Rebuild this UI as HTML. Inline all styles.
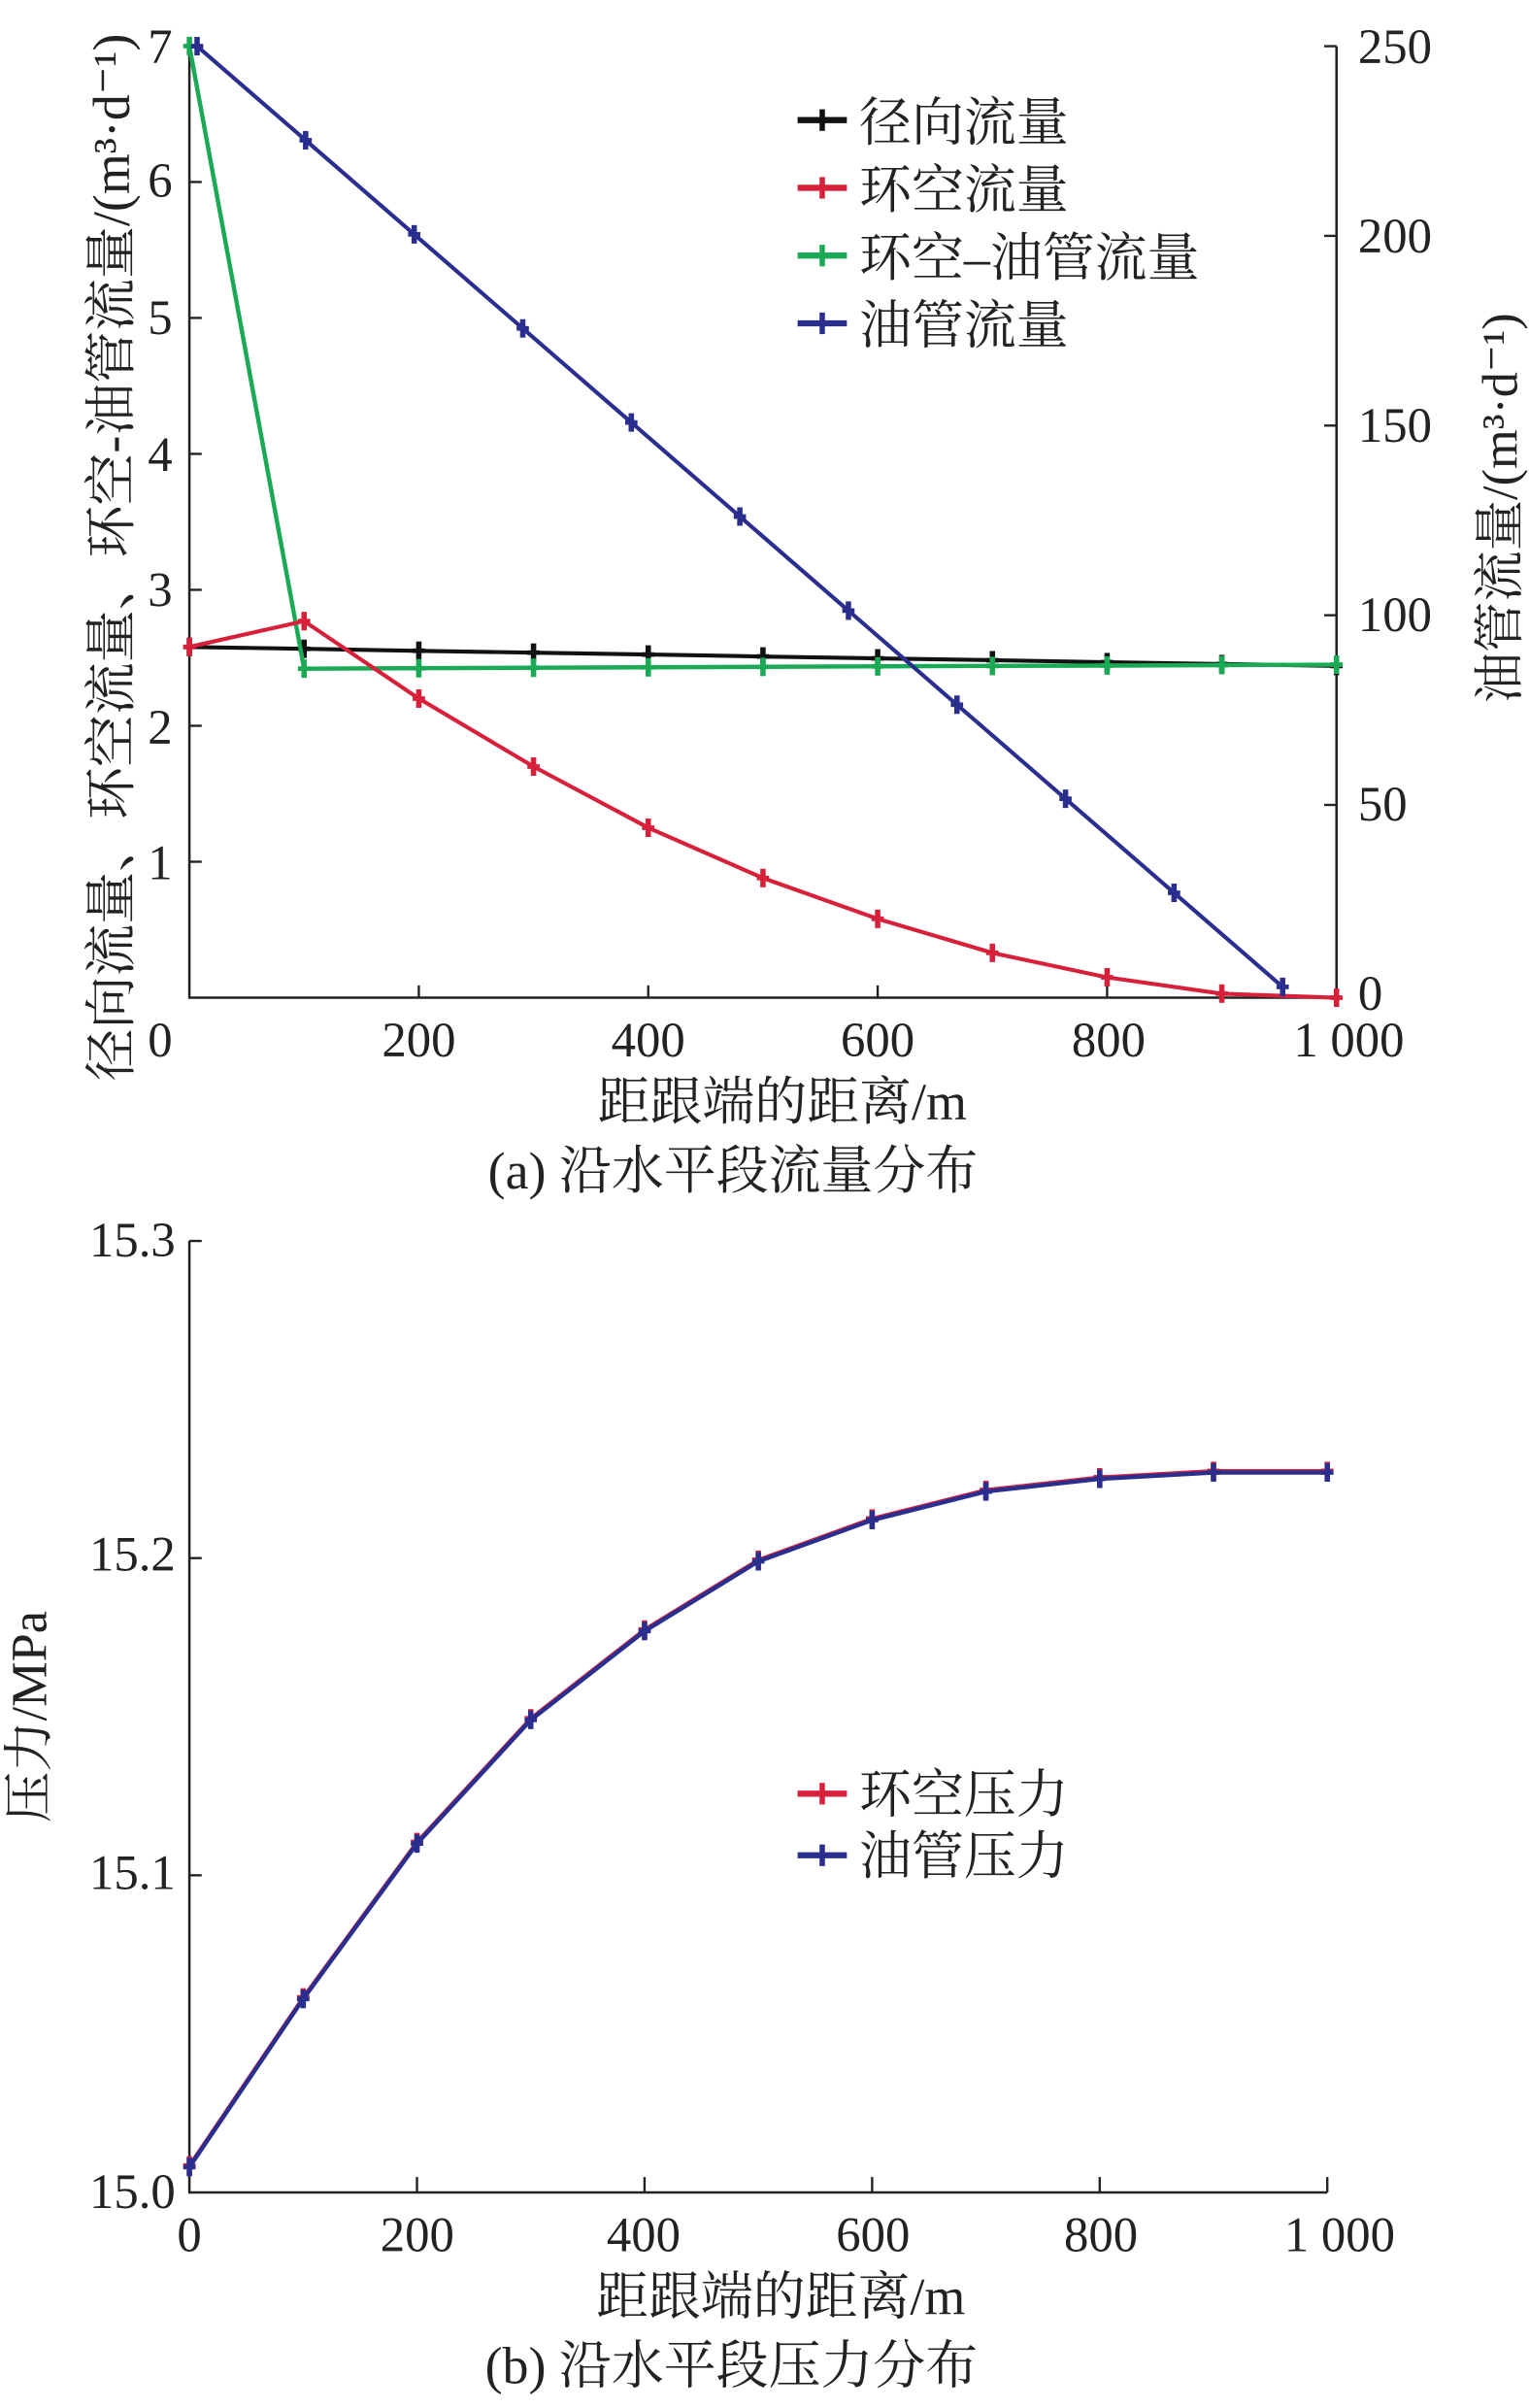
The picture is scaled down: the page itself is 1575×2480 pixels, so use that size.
<!DOCTYPE html>
<html><head><meta charset="utf-8"><style>
html,body{margin:0;padding:0;background:#fff;}
svg{display:block;}
text{font-family:"Liberation Serif","Noto Serif CJK SC","Noto Sans CJK SC",serif;fill:#222;}
</style></head><body>
<svg id="s" xmlns="http://www.w3.org/2000/svg" width="1575" height="2480" viewBox="0 0 993 1564" preserveAspectRatio="none">
<g stroke="#222" stroke-width="1.6" fill="none">
<path d="M123,30V648H868V30"/>
<path d="M123,806V1424H862"/>
</g>
<g font-size="32" text-anchor="end">
<text x="112" y="686">0</text><text x="112" y="571">1</text><text x="112" y="483">2</text><text x="112" y="394">3</text><text x="112" y="306">4</text><text x="112" y="217">5</text><text x="112" y="128">6</text><text x="112" y="41">7</text>
</g>
<g font-size="32" text-anchor="start">
<text x="882" y="656">0</text><text x="882" y="533">50</text><text x="882" y="410">100</text><text x="882" y="287">150</text><text x="882" y="164">200</text><text x="882" y="41">250</text>
</g>
<g font-size="32" text-anchor="middle">
<text x="272" y="686">200</text><text x="421" y="686">400</text><text x="570" y="686">600</text><text x="720" y="686">800</text><text x="876" y="686">1 000</text>
<text x="508" y="727" font-size="34">距跟端的距离/m</text>
<text x="476" y="772" font-size="34">(a) 沿水平段流量分布</text>
<text x="123" y="1462">0</text><text x="271" y="1462">200</text><text x="418" y="1462">400</text><text x="567" y="1462">600</text><text x="715" y="1462">800</text><text x="870" y="1462">1 000</text>
<text x="507" y="1503" font-size="34">距跟端的距离/m</text>
<text x="475" y="1548" font-size="34">(b) 沿水平段压力分布</text>
</g>
<g font-size="32" text-anchor="end">
<text x="114" y="816">15.3</text><text x="114" y="1020">15.2</text><text x="114" y="1227">15.1</text><text x="114" y="1434">15.0</text>
</g>
<text font-size="34" text-anchor="middle" transform="translate(84,362) rotate(-90)">径向流量、环空流量、环空-油管流量/(m³·d⁻¹)</text>
<text font-size="33" text-anchor="middle" transform="translate(985,330) rotate(-90)">油管流量/(m³·d⁻¹)</text>
<text font-size="33" text-anchor="middle" transform="translate(30,1115) rotate(-90)">压力/MPa</text>
<g font-size="34">
<text x="558" y="91">径向流量</text><text x="558" y="135">环空流量</text><text x="558" y="179">环空–油管流量</text><text x="558" y="223">油管流量</text>
<text x="558" y="1177">环空压力</text><text x="558" y="1217">油管压力</text>
</g>
<g id="dyn"></g>
</svg>
<script>
var g=document.getElementById('dyn'),NS='http://www.w3.org/2000/svg';
function el(t,a){var e=document.createElementNS(NS,t);for(var k in a)e.setAttribute(k,a[k]);g.appendChild(e);return e;}
[1,2,3,4,5,6].forEach(function(v){var y=648-v*88.3;el('line',{x1:123,x2:131,y1:y,y2:y,stroke:'#222','stroke-width':1.5});});
[50,100,150,200,250].forEach(function(v){var y=646-v*2.464;el('line',{x1:860,x2:868,y1:y,y2:y,stroke:'#222','stroke-width':1.5});});
[200,400,600,800].forEach(function(v){var x=123+v*0.745;el('line',{x1:x,x2:x,y1:640,y2:648,stroke:'#222','stroke-width':1.5});});
[15.1,15.2,15.3].forEach(function(v){var y=1424-(v-15)*2060;el('line',{x1:123,x2:131,y1:y,y2:y,stroke:'#222','stroke-width':1.5});});
[200,400,600,800,1000].forEach(function(v){var x=123+v*0.739;el('line',{x1:x,x2:x,y1:1414,y2:1424,stroke:'#222','stroke-width':1.5});});
function series(pts,col,w){var d='';pts.forEach(function(p,i){d+=(i?'L':'M')+p[0].toFixed(1)+','+p[1].toFixed(1);});
 el('path',{d:d,stroke:col,'stroke-width':w||2.2,fill:'none'});
 pts.forEach(function(p){el('line',{x1:p[0]-4,x2:p[0]+4,y1:p[1],y2:p[1],stroke:col,'stroke-width':3});el('line',{x1:p[0],x2:p[0],y1:p[1]-6,y2:p[1]+6,stroke:col,'stroke-width':3.5});});}
function X(m){return 123+m*0.745;} function YL(v){return 648-v*88.3;}
var xs=[0,100,200,300,400,500,600,700,800,900,1000];
var black=xs.map(function(m){return [X(m),YL(2.58-0.14*m/1000)];});
var red=[2.58,2.77,2.2,1.7,1.25,0.88,0.58,0.33,0.15,0.03,0].map(function(v,i){return [X(xs[i]),YL(v)];});
var green=xs.map(function(m,i){return [X(m),YL(i==0?7:2.42+0.03*(m-100)/900)];});
var blue=[];for(var i=0;i<=10;i++){blue.push([128+i*70.5,30+i*61.1]);}
series(black,'#111',2.6);
series(green,'#1aaa55',2.8);
series(red,'#d8203a',2.6);
series(blue,'#2a2f8f',2.6);
function Y2(v){return 1424-(v-15)*2060;} function X2(m){return 123+m*0.739;}
var pr=[15.008,15.061,15.11,15.149,15.177,15.199,15.212,15.221,15.225,15.227,15.227];
var pp=pr.map(function(v,i){return [X2(xs[i]),Y2(v)];});
series(pp.map(function(p){return [p[0],p[1]-1];}),'#d8203a',2.4);
series(pp,'#2a2f8f',2.8);
function leg(y,col){el('line',{x1:518,x2:550,y1:y,y2:y,stroke:col,'stroke-width':4});el('line',{x1:534,x2:534,y1:y-7,y2:y+7,stroke:col,'stroke-width':3.5});}
leg(78,'#111');leg(122,'#d8203a');leg(166,'#1aaa55');leg(210,'#2a2f8f');leg(1165,'#d8203a');leg(1205,'#2a2f8f');
</script>
</body></html>
